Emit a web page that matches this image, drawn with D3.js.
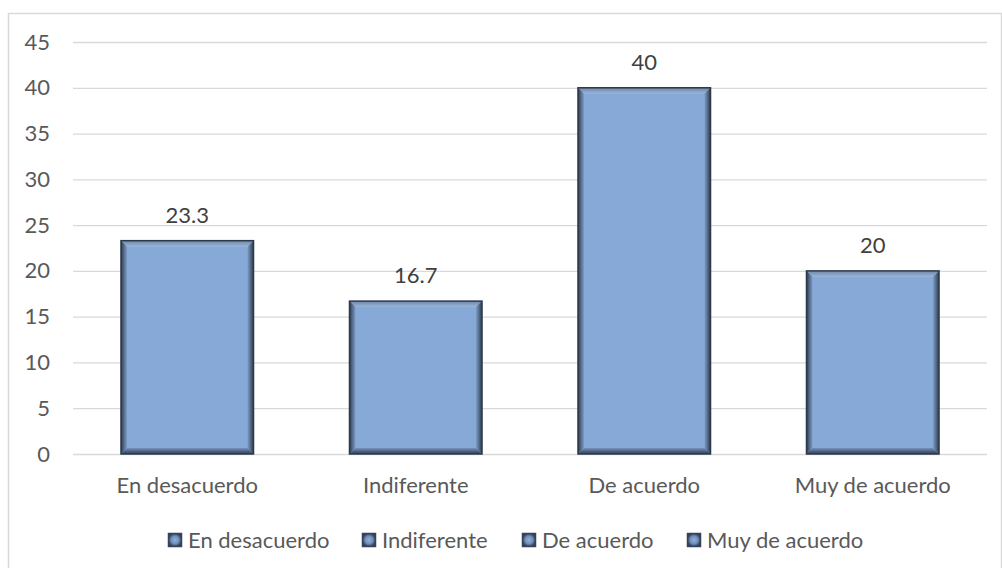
<!DOCTYPE html>
<html><head><meta charset="utf-8">
<script src="https://cdn.jsdelivr.net/npm/d3@7"></script>
<style>html,body{margin:0;padding:0;background:#fff;overflow:hidden}svg{display:block}</style>
</head><body><svg id="c" width="1002" height="568"></svg>
<script>
const categories = ["En desacuerdo", "Indiferente", "De acuerdo", "Muy de acuerdo"];
const values = [23.3, 16.7, 40, 20];
const valueLabels = ["23.3", "16.7", "40", "20"];
const yTicks = [0, 5, 10, 15, 20, 25, 30, 35, 40, 45];
const legendLabels = ["En desacuerdo", "Indiferente", "De acuerdo", "Muy de acuerdo"];

const svg = d3.select("#c");
const font = "Lato, 'Open Sans', sans-serif";
const txt = "#595959";
const fs = 22;

// outer chart border
svg.append("rect").attr("x", 8.5).attr("y", 13.5).attr("width", 993).attr("height", 600)
  .attr("fill", "#fff").attr("stroke", "#d9d9d9").attr("stroke-width", 1.5);

const x = d3.scaleBand().domain(categories).range([73, 987]).paddingInner(0.42).paddingOuter(0.21);
const y = d3.scaleLinear().domain([0, 45]).range([454, 42]);

// grid
const yAxis = d3.axisLeft(y).tickValues(yTicks).tickSize(-(987 - 73)).tickPadding(23);
const ga = svg.append("g").attr("transform", "translate(73,0)").call(yAxis);
ga.select(".domain").remove();
ga.selectAll(".tick line").attr("stroke", "#d9d9d9").attr("stroke-width", 1.3);
ga.selectAll(".tick text").attr("fill", txt).attr("font-family", font).attr("font-size", fs);

// gradients for bevel
const defs = svg.append("defs");
function lg(id, x1, y1, x2, y2, c1, c2) {
  const g = defs.append("linearGradient").attr("id", id)
    .attr("x1", x1).attr("y1", y1).attr("x2", x2).attr("y2", y2);
  g.append("stop").attr("offset", "0%").attr("stop-color", c1);
  g.append("stop").attr("offset", "100%").attr("stop-color", c2);
}
lg("bl", 0, 0, 1, 0, "#2f3c4f", "#7d9cc6");
lg("br", 0, 0, 1, 0, "#7d9cc6", "#2f3c4f");
lg("bt", 0, 0, 0, 1, "#6f86a6", "#9ab6dc");
lg("bb", 0, 0, 0, 1, "#7592bb", "#2f3c4f");
const rg = defs.append("radialGradient").attr("id", "mk");
rg.append("stop").attr("offset", "0%").attr("stop-color", "#8fb0dc");
rg.append("stop").attr("offset", "60%").attr("stop-color", "#6f8fba");
rg.append("stop").attr("offset", "100%").attr("stop-color", "#34435a");

const bw = x.bandwidth();
const bev = 6;
const bars = svg.append("g").selectAll("g").data(categories).join("g");
bars.each(function (d, i) {
  const g = d3.select(this);
  const x0 = x(d), x1 = x0 + bw, y0 = y(values[i]), y1 = y(0);
  g.append("rect").attr("x", x0).attr("y", y0).attr("width", bw).attr("height", y1 - y0)
    .attr("fill", "#87a9d8");
  g.append("polygon").attr("points", [[x0, y0], [x1, y0], [x1 - bev, y0 + bev], [x0 + bev, y0 + bev]].join(" ")).attr("fill", "url(#bt)");
  g.append("polygon").attr("points", [[x0, y1], [x1, y1], [x1 - bev, y1 - bev], [x0 + bev, y1 - bev]].join(" ")).attr("fill", "url(#bb)");
  g.append("polygon").attr("points", [[x0, y0], [x0 + bev, y0 + bev], [x0 + bev, y1 - bev], [x0, y1]].join(" ")).attr("fill", "url(#bl)");
  g.append("polygon").attr("points", [[x1, y0], [x1 - bev, y0 + bev], [x1 - bev, y1 - bev], [x1, y1]].join(" ")).attr("fill", "url(#br)");
  g.append("rect").attr("x", x0).attr("y", y0).attr("width", bw).attr("height", y1 - y0)
    .attr("fill", "none").attr("stroke", "#2c394b").attr("stroke-width", 1.5);
  g.append("text").attr("x", x0 + bw / 2).attr("y", y0 - 18).attr("text-anchor", "middle")
    .attr("fill", "#404040").attr("font-family", font).attr("font-size", fs).text(valueLabels[i]);
});

// x axis labels
const xAxis = d3.axisBottom(x).tickSize(0).tickPadding(23);
const gx = svg.append("g").attr("transform", "translate(0,454)").call(xAxis);
gx.select(".domain").remove();
gx.selectAll(".tick text").attr("fill", txt).attr("font-family", font).attr("font-size", fs);

// legend
const legendX = [168, 362, 522, 687];
const lgG = svg.append("g").selectAll("g").data(legendLabels).join("g")
  .attr("transform", (d, i) => `translate(${legendX[i]},533)`);
lgG.append("rect").attr("x", 0.5).attr("y", 0.5).attr("width", 13).attr("height", 13)
  .attr("fill", "url(#mk)").attr("stroke", "#34435a").attr("stroke-width", 1.5);
lgG.append("text").attr("x", 20).attr("y", 15).attr("fill", txt).attr("font-family", font)
  .attr("font-size", fs).text(d => d);
</script></body></html>
